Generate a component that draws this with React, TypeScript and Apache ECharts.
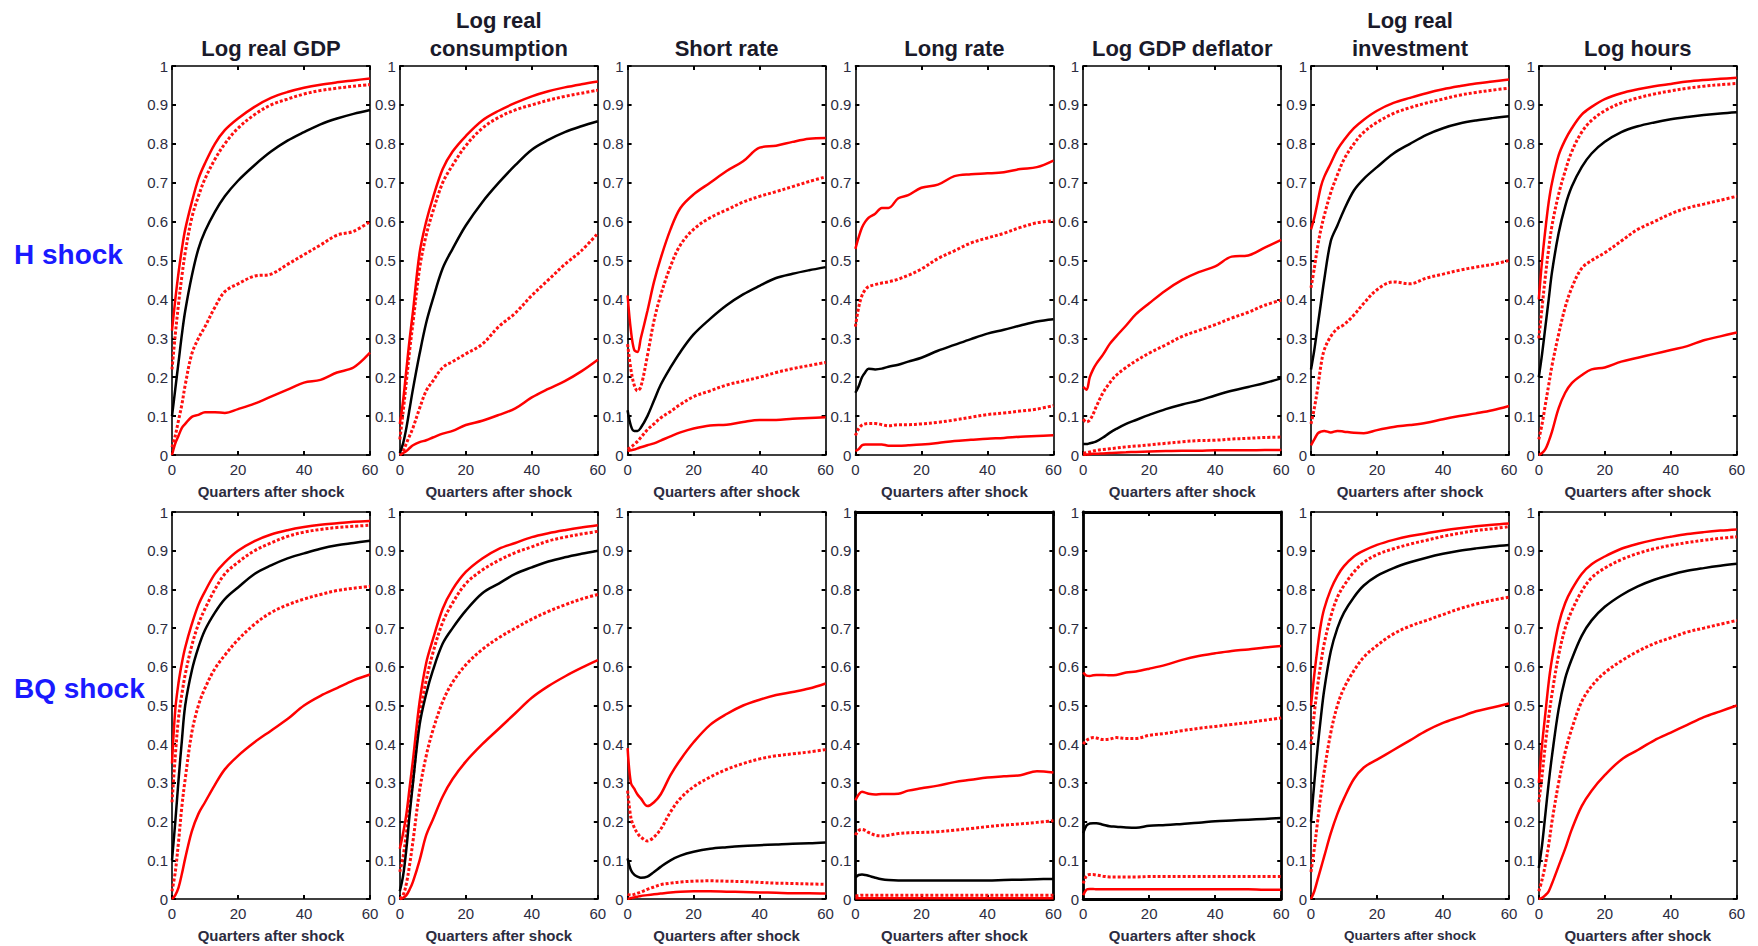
import React, { useEffect, useRef } from "react";
import * as echarts from "echarts";

const QUARTERS = [0, 1, 2, 3, 4, 6, 8, 10, 13, 16, 20, 25, 30, 35, 40, 45, 50, 55, 60];
const X_TICKS = [0, 20, 40, 60];
const Y_TICKS = [0, 0.1, 0.2, 0.3, 0.4, 0.5, 0.6, 0.7, 0.8, 0.9, 1];
const VARIABLES = [
  "Log real GDP",
  "Log real\nconsumption",
  "Short rate",
  "Long rate",
  "Log GDP deflator",
  "Log real\ninvestment",
  "Log hours",
];
const SHOCKS = ["H shock", "BQ shock"];
const X_NAME = "Quarters after shock";
// band order in every panel: upper solid, upper dotted, median, lower dotted, lower solid
const BANDS = ["upper", "upperInner", "median", "lowerInner", "lower"];

const GDP_H = [
  [0.32, 0.40, 0.47, 0.53, 0.58, 0.65, 0.71, 0.75, 0.80, 0.835, 0.865, 0.895, 0.918, 0.933, 0.944, 0.952, 0.958, 0.963, 0.968],
  [0.22, 0.31, 0.39, 0.46, 0.52, 0.61, 0.665, 0.71, 0.76, 0.80, 0.84, 0.875, 0.90, 0.915, 0.928, 0.937, 0.943, 0.948, 0.952],
  [0.10, 0.17, 0.24, 0.31, 0.37, 0.46, 0.53, 0.575, 0.625, 0.665, 0.705, 0.745, 0.78, 0.808, 0.83, 0.85, 0.865, 0.877, 0.887],
  [0.02, 0.05, 0.09, 0.13, 0.18, 0.26, 0.30, 0.33, 0.38, 0.42, 0.44, 0.46, 0.465, 0.49, 0.515, 0.54, 0.565, 0.575, 0.60],
  [0.00, 0.03, 0.05, 0.07, 0.08, 0.098, 0.103, 0.11, 0.11, 0.108, 0.118, 0.132, 0.15, 0.168, 0.186, 0.193, 0.212, 0.225, 0.263],
];
const GDP_BQ = [
  [0.35, 0.49, 0.56, 0.61, 0.65, 0.71, 0.76, 0.795, 0.84, 0.87, 0.90, 0.925, 0.942, 0.953, 0.961, 0.967, 0.971, 0.975, 0.977],
  [0.25, 0.37, 0.47, 0.53, 0.58, 0.655, 0.71, 0.75, 0.80, 0.84, 0.87, 0.90, 0.92, 0.937, 0.948, 0.955, 0.96, 0.963, 0.966],
  [0.10, 0.20, 0.31, 0.41, 0.50, 0.59, 0.65, 0.695, 0.74, 0.775, 0.805, 0.84, 0.862, 0.88, 0.893, 0.905, 0.914, 0.92, 0.926],
  [0.02, 0.07, 0.15, 0.24, 0.31, 0.43, 0.50, 0.545, 0.595, 0.63, 0.67, 0.71, 0.74, 0.76, 0.775, 0.787, 0.797, 0.803, 0.808],
  [0.00, 0.01, 0.03, 0.065, 0.105, 0.175, 0.22, 0.25, 0.295, 0.335, 0.37, 0.405, 0.435, 0.465, 0.50, 0.525, 0.545, 0.565, 0.58],
];
const CONS_H = [
  [0.08, 0.14, 0.22, 0.30, 0.37, 0.52, 0.60, 0.66, 0.735, 0.78, 0.82, 0.86, 0.885, 0.905, 0.922, 0.935, 0.945, 0.953, 0.96],
  [0.04, 0.11, 0.19, 0.27, 0.34, 0.48, 0.565, 0.625, 0.70, 0.745, 0.795, 0.84, 0.868, 0.887, 0.90, 0.912, 0.922, 0.93, 0.938],
  [0.005, 0.03, 0.07, 0.12, 0.17, 0.26, 0.34, 0.40, 0.48, 0.53, 0.59, 0.65, 0.70, 0.745, 0.785, 0.81, 0.83, 0.845, 0.858],
  [0.00, 0.01, 0.03, 0.05, 0.07, 0.12, 0.165, 0.19, 0.225, 0.24, 0.26, 0.285, 0.33, 0.365, 0.41, 0.45, 0.49, 0.525, 0.57],
  [0.00, 0.005, 0.01, 0.018, 0.025, 0.033, 0.038, 0.045, 0.055, 0.062, 0.077, 0.088, 0.103, 0.12, 0.148, 0.17, 0.19, 0.215, 0.245],
];
const CONS_BQ = [
  [0.13, 0.17, 0.22, 0.29, 0.36, 0.51, 0.61, 0.67, 0.75, 0.80, 0.845, 0.88, 0.905, 0.92, 0.935, 0.945, 0.953, 0.96, 0.966],
  [0.07, 0.11, 0.17, 0.24, 0.31, 0.47, 0.565, 0.635, 0.715, 0.765, 0.815, 0.85, 0.875, 0.895, 0.91, 0.925, 0.935, 0.943, 0.95],
  [0.02, 0.06, 0.13, 0.22, 0.30, 0.45, 0.53, 0.59, 0.66, 0.70, 0.745, 0.79, 0.815, 0.84, 0.857, 0.872, 0.883, 0.892, 0.90],
  [0.00, 0.01, 0.04, 0.09, 0.15, 0.28, 0.37, 0.435, 0.51, 0.56, 0.605, 0.645, 0.675, 0.70, 0.723, 0.743, 0.76, 0.775, 0.787],
  [0.00, 0.003, 0.01, 0.025, 0.045, 0.10, 0.165, 0.205, 0.265, 0.31, 0.355, 0.40, 0.44, 0.48, 0.52, 0.55, 0.575, 0.597, 0.617],
];
const SHORT_H = [
  [0.41, 0.32, 0.27, 0.265, 0.30, 0.37, 0.445, 0.505, 0.58, 0.635, 0.67, 0.70, 0.73, 0.755, 0.79, 0.795, 0.805, 0.813, 0.815],
  [0.285, 0.22, 0.18, 0.165, 0.175, 0.255, 0.345, 0.41, 0.485, 0.54, 0.58, 0.61, 0.63, 0.65, 0.665, 0.677, 0.69, 0.703, 0.715],
  [0.115, 0.075, 0.062, 0.062, 0.07, 0.10, 0.14, 0.18, 0.225, 0.265, 0.31, 0.35, 0.385, 0.413, 0.435, 0.455, 0.466, 0.475, 0.483],
  [0.015, 0.02, 0.027, 0.035, 0.045, 0.065, 0.08, 0.095, 0.112, 0.13, 0.15, 0.165, 0.18, 0.19, 0.20, 0.212, 0.222, 0.23, 0.238],
  [0.01, 0.012, 0.014, 0.017, 0.02, 0.025, 0.03, 0.037, 0.048, 0.058, 0.068, 0.076, 0.078, 0.085, 0.09, 0.09, 0.093, 0.095, 0.097],
];
const SHORT_BQ = [
  [0.39, 0.30, 0.285, 0.27, 0.26, 0.24, 0.25, 0.27, 0.32, 0.36, 0.405, 0.45, 0.478, 0.50, 0.515, 0.527, 0.535, 0.544, 0.557],
  [0.28, 0.21, 0.185, 0.17, 0.16, 0.15, 0.16, 0.18, 0.225, 0.26, 0.29, 0.315, 0.335, 0.35, 0.362, 0.37, 0.375, 0.38, 0.386],
  [0.105, 0.075, 0.063, 0.058, 0.055, 0.058, 0.07, 0.083, 0.10, 0.112, 0.122, 0.13, 0.134, 0.137, 0.139, 0.141, 0.143, 0.144, 0.146],
  [0.012, 0.01, 0.012, 0.015, 0.018, 0.025, 0.031, 0.037, 0.041, 0.044, 0.046, 0.047, 0.046, 0.045, 0.043, 0.041, 0.04, 0.039, 0.038],
  [0.00, 0.002, 0.004, 0.006, 0.008, 0.01, 0.012, 0.014, 0.017, 0.019, 0.02, 0.02, 0.019, 0.018, 0.017, 0.016, 0.015, 0.015, 0.014],
];
const LONG_H = [
  [0.53, 0.56, 0.585, 0.60, 0.61, 0.62, 0.635, 0.635, 0.66, 0.668, 0.687, 0.695, 0.717, 0.722, 0.724, 0.727, 0.735, 0.74, 0.757],
  [0.33, 0.38, 0.41, 0.425, 0.433, 0.438, 0.442, 0.445, 0.452, 0.462, 0.478, 0.505, 0.525, 0.545, 0.558, 0.57, 0.585, 0.597, 0.602],
  [0.16, 0.177, 0.20, 0.213, 0.222, 0.22, 0.222, 0.227, 0.232, 0.24, 0.25, 0.268, 0.283, 0.298, 0.312, 0.322, 0.333, 0.343, 0.349],
  [0.05, 0.068, 0.077, 0.08, 0.081, 0.081, 0.078, 0.075, 0.078, 0.078, 0.08, 0.084, 0.09, 0.097, 0.104, 0.108, 0.113, 0.118, 0.127],
  [0.01, 0.015, 0.025, 0.027, 0.027, 0.027, 0.027, 0.024, 0.024, 0.025, 0.027, 0.031, 0.036, 0.039, 0.042, 0.044, 0.047, 0.049, 0.051],
];
const LONG_BQ = [
  [0.255, 0.27, 0.277, 0.275, 0.272, 0.27, 0.271, 0.271, 0.272, 0.28, 0.286, 0.293, 0.302, 0.308, 0.314, 0.317, 0.32, 0.33, 0.327],
  [0.165, 0.177, 0.18, 0.177, 0.172, 0.165, 0.163, 0.165, 0.169, 0.171, 0.172, 0.174, 0.178, 0.182, 0.187, 0.191, 0.194, 0.198, 0.202],
  [0.055, 0.062, 0.063, 0.062, 0.06, 0.055, 0.051, 0.049, 0.048, 0.048, 0.048, 0.048, 0.048, 0.048, 0.048, 0.049, 0.05, 0.051, 0.052],
  [0.008, 0.009, 0.01, 0.01, 0.01, 0.01, 0.01, 0.01, 0.01, 0.01, 0.01, 0.01, 0.01, 0.01, 0.01, 0.01, 0.01, 0.01, 0.01],
  [0.002, 0.002, 0.002, 0.002, 0.002, 0.002, 0.002, 0.002, 0.002, 0.002, 0.002, 0.002, 0.002, 0.002, 0.002, 0.002, 0.002, 0.002, 0.002],
];
const DEFL_H = [
  [0.175, 0.168, 0.20, 0.22, 0.235, 0.258, 0.285, 0.305, 0.333, 0.362, 0.39, 0.423, 0.45, 0.47, 0.485, 0.51, 0.513, 0.533, 0.553],
  [0.092, 0.085, 0.09, 0.105, 0.125, 0.16, 0.185, 0.205, 0.225, 0.242, 0.262, 0.283, 0.305, 0.32, 0.335, 0.352, 0.367, 0.385, 0.398],
  [0.028, 0.028, 0.03, 0.032, 0.035, 0.045, 0.057, 0.067, 0.08, 0.09, 0.103, 0.118, 0.13, 0.14, 0.153, 0.165, 0.175, 0.185, 0.197],
  [0.005, 0.006, 0.008, 0.01, 0.012, 0.014, 0.016, 0.018, 0.021, 0.023, 0.026, 0.03, 0.034, 0.037, 0.038, 0.041, 0.043, 0.045, 0.046],
  [0.00, 0.001, 0.002, 0.003, 0.003, 0.004, 0.005, 0.006, 0.007, 0.008, 0.009, 0.01, 0.011, 0.011, 0.012, 0.012, 0.012, 0.013, 0.013],
];
const DEFL_BQ = [
  [0.585, 0.577, 0.576, 0.578, 0.579, 0.579, 0.578, 0.579, 0.585, 0.588, 0.595, 0.605, 0.618, 0.628, 0.635, 0.641, 0.645, 0.65, 0.654],
  [0.40, 0.41, 0.415, 0.417, 0.416, 0.412, 0.413, 0.417, 0.415, 0.415, 0.423, 0.428, 0.435, 0.441, 0.446, 0.451, 0.456, 0.462, 0.468],
  [0.17, 0.19, 0.195, 0.196, 0.196, 0.192, 0.188, 0.187, 0.185, 0.184, 0.189, 0.191, 0.194, 0.197, 0.201, 0.203, 0.205, 0.207, 0.209],
  [0.04, 0.06, 0.063, 0.063, 0.062, 0.059, 0.057, 0.057, 0.057, 0.057, 0.058, 0.058, 0.058, 0.058, 0.058, 0.058, 0.058, 0.058, 0.058],
  [0.01, 0.024, 0.026, 0.026, 0.025, 0.025, 0.025, 0.025, 0.025, 0.025, 0.025, 0.025, 0.025, 0.025, 0.025, 0.025, 0.025, 0.024, 0.024],
];
const INV_H = [
  [0.58, 0.61, 0.65, 0.69, 0.715, 0.75, 0.785, 0.81, 0.84, 0.862, 0.885, 0.905, 0.918, 0.93, 0.94, 0.948, 0.955, 0.96, 0.965],
  [0.43, 0.48, 0.535, 0.58, 0.615, 0.675, 0.72, 0.76, 0.80, 0.83, 0.855, 0.878, 0.893, 0.905, 0.915, 0.925, 0.932, 0.938, 0.943],
  [0.22, 0.27, 0.33, 0.39, 0.45, 0.55, 0.59, 0.63, 0.68, 0.71, 0.74, 0.775, 0.80, 0.823, 0.84, 0.852, 0.86, 0.866, 0.871],
  [0.08, 0.12, 0.17, 0.23, 0.27, 0.305, 0.325, 0.335, 0.36, 0.39, 0.425, 0.445, 0.44, 0.455, 0.465, 0.475, 0.483, 0.49, 0.50],
  [0.025, 0.04, 0.055, 0.06, 0.062, 0.058, 0.062, 0.06, 0.057, 0.056, 0.064, 0.072, 0.077, 0.083, 0.092, 0.10, 0.107, 0.115, 0.126],
];
const INV_BQ = [
  [0.50, 0.58, 0.65, 0.71, 0.75, 0.80, 0.835, 0.86, 0.885, 0.90, 0.915, 0.928, 0.938, 0.945, 0.952, 0.958, 0.963, 0.967, 0.97],
  [0.40, 0.48, 0.55, 0.61, 0.66, 0.73, 0.78, 0.81, 0.845, 0.87, 0.89, 0.905, 0.917, 0.927, 0.937, 0.945, 0.952, 0.957, 0.962],
  [0.20, 0.30, 0.39, 0.47, 0.54, 0.64, 0.70, 0.74, 0.78, 0.81, 0.835, 0.855, 0.87, 0.882, 0.892, 0.90, 0.906, 0.911, 0.915],
  [0.07, 0.13, 0.20, 0.27, 0.33, 0.43, 0.50, 0.545, 0.59, 0.625, 0.655, 0.685, 0.705, 0.72, 0.735, 0.75, 0.762, 0.772, 0.78],
  [0.00, 0.02, 0.05, 0.08, 0.11, 0.17, 0.22, 0.26, 0.31, 0.34, 0.36, 0.385, 0.41, 0.435, 0.455, 0.47, 0.485, 0.495, 0.505],
];
const HOURS_H = [
  [0.40, 0.50, 0.58, 0.65, 0.70, 0.77, 0.81, 0.84, 0.875, 0.895, 0.915, 0.93, 0.94, 0.948, 0.954, 0.96, 0.964, 0.967, 0.97],
  [0.30, 0.38, 0.46, 0.53, 0.59, 0.67, 0.73, 0.78, 0.83, 0.86, 0.885, 0.905, 0.918, 0.928, 0.936, 0.943, 0.948, 0.952, 0.955],
  [0.20, 0.26, 0.33, 0.40, 0.47, 0.57, 0.64, 0.69, 0.74, 0.775, 0.805, 0.83, 0.845, 0.855, 0.863, 0.869, 0.874, 0.878, 0.881],
  [0.04, 0.08, 0.13, 0.18, 0.23, 0.31, 0.38, 0.43, 0.48, 0.50, 0.52, 0.55, 0.58, 0.60, 0.62, 0.635, 0.645, 0.655, 0.665],
  [0.00, 0.005, 0.015, 0.035, 0.06, 0.12, 0.16, 0.185, 0.205, 0.22, 0.225, 0.24, 0.25, 0.26, 0.27, 0.28, 0.295, 0.305, 0.315],
];
const HOURS_BQ = [
  [0.30, 0.40, 0.48, 0.56, 0.62, 0.71, 0.765, 0.80, 0.84, 0.865, 0.885, 0.905, 0.918, 0.928, 0.936, 0.943, 0.948, 0.952, 0.955],
  [0.25, 0.32, 0.40, 0.47, 0.53, 0.63, 0.70, 0.745, 0.795, 0.83, 0.855, 0.877, 0.893, 0.905, 0.914, 0.921, 0.927, 0.932, 0.936],
  [0.08, 0.14, 0.22, 0.30, 0.37, 0.49, 0.57, 0.62, 0.68, 0.72, 0.755, 0.785, 0.808, 0.825, 0.838, 0.848, 0.855, 0.861, 0.866],
  [0.02, 0.05, 0.09, 0.14, 0.20, 0.30, 0.38, 0.44, 0.51, 0.55, 0.585, 0.615, 0.64, 0.66, 0.675, 0.69, 0.70, 0.71, 0.72],
  [0.00, 0.003, 0.01, 0.02, 0.04, 0.085, 0.13, 0.18, 0.24, 0.28, 0.32, 0.36, 0.385, 0.41, 0.43, 0.45, 0.47, 0.485, 0.50],
];

const PANELS_H = [GDP_H, CONS_H, SHORT_H, LONG_H, DEFL_H, INV_H, HOURS_H];
const PANELS_BQ = [GDP_BQ, CONS_BQ, SHORT_BQ, LONG_BQ, DEFL_BQ, INV_BQ, HOURS_BQ];

// ---------- layout & style ----------
const FONT = "'Liberation Sans', Arial, Helvetica, sans-serif";
const LABEL_COLOR = "#2c2c40";
const TITLE_COLOR = "#1a1a2a";
const ROW_COLOR = "#1a1aff";
const RED = "#ff0000";
const COL_LEFT0 = 172;
const COL_STEP = 227.8;
const PLOT_W = 198;
const ROWS = [
  { top: 66, height: 389 },
  { top: 512, height: 387 },
];
const ROW_LABEL_Y = [254, 688];

function bandStyle(b: number) {
  if (b === 2) return { color: "#000000", width: 2.5, type: "solid" as any };
  if (b === 1 || b === 3) return { color: "#ff1010", width: 3, type: [3, 2] as any, cap: "butt" };
  return { color: RED, width: 2.5, type: "solid" as any };
}

function buildOption() {
  const grid: any[] = [];
  const xAxis: any[] = [];
  const yAxis: any[] = [];
  const series: any[] = [];
  const graphic: any[] = [];
  const tick = { inside: true, length: 4, lineStyle: { color: "#000", width: 2 } };

  [PANELS_H, PANELS_BQ].forEach((panels, r) => {
    panels.forEach((bands, c) => {
      const k = grid.length;
      const left = COL_LEFT0 + c * COL_STEP;
      const thick = r === 1 && (c === 3 || c === 4);
      const lw = thick ? 2.8 : 1.6;
      const axisLine = { show: true, onZero: false, lineStyle: { color: "#000", width: lw } };
      grid.push({ left, top: ROWS[r].top, width: PLOT_W, height: ROWS[r].height, containLabel: false });
      const nameSize = r === 1 && c === 5 ? 13.5 : 15;
      xAxis.push({
        type: "value", gridIndex: k, min: X_TICKS[0], max: X_TICKS[X_TICKS.length - 1],
        interval: X_TICKS[1] - X_TICKS[0], position: "bottom",
        axisLine, axisTick: tick, splitLine: { show: false },
        axisLabel: { fontSize: 15, color: LABEL_COLOR, margin: 7, fontFamily: FONT },
        name: X_NAME, nameLocation: "middle", nameGap: 29,
        nameTextStyle: { fontSize: nameSize, fontWeight: "bold", color: LABEL_COLOR, fontFamily: FONT },
      });
      xAxis.push({
        type: "value", gridIndex: k, min: X_TICKS[0], max: X_TICKS[X_TICKS.length - 1],
        interval: X_TICKS[1] - X_TICKS[0], position: "top",
        axisLine, axisTick: tick, splitLine: { show: false }, axisLabel: { show: false },
      });
      const yBase = {
        type: "value", gridIndex: k, min: Y_TICKS[0], max: Y_TICKS[Y_TICKS.length - 1],
        interval: Y_TICKS[1] - Y_TICKS[0], axisLine, axisTick: tick, splitLine: { show: false },
      };
      yAxis.push({
        ...yBase, position: "left",
        axisLabel: { fontSize: 15, color: LABEL_COLOR, margin: 4, fontFamily: FONT },
      });
      yAxis.push({ ...yBase, position: "right", axisLabel: { show: false } });

      const order = [4, 3, 1, 0, 2];
      order.forEach((b) => {
        series.push({
          type: "line", name: `${SHOCKS[r]} ${VARIABLES[c]} ${BANDS[b]}`,
          xAxisIndex: 2 * k, yAxisIndex: 2 * k,
          data: QUARTERS.map((q, i) => [q, bands[b][i]]),
          showSymbol: false, symbol: "none", smooth: 0.35,
          lineStyle: bandStyle(b), silent: true, z: 3,
        });
      });

      if (r === 0) {
        graphic.push({
          type: "text", x: left + PLOT_W / 2, y: 62,
          style: {
            text: VARIABLES[c], fontSize: 22, fontWeight: "bold", fontFamily: FONT,
            fill: TITLE_COLOR, textAlign: "center", textVerticalAlign: "bottom", lineHeight: 28,
          },
        });
      }
    });
  });

  SHOCKS.forEach((s, r) => {
    graphic.push({
      type: "text", x: 14, y: ROW_LABEL_Y[r],
      style: {
        text: s, fontSize: 28, fontWeight: "bold", fontFamily: FONT,
        fill: ROW_COLOR, textAlign: "left", textVerticalAlign: "middle",
      },
    });
  });

  return {
    animation: false,
    backgroundColor: "#ffffff",
    grid, xAxis, yAxis, series, graphic,
  };
}

export default function App() {
  const ref = useRef<HTMLDivElement>(null);
  useEffect(() => {
    if (!ref.current) return;
    const chart = echarts.init(ref.current, null, { renderer: "svg" });
    chart.setOption(buildOption() as any);
    return () => chart.dispose();
  }, []);
  return (
    <div
      ref={ref}
      style={{ position: "absolute", left: 0, top: 0, width: 1758, height: 946, background: "#fff" }}
    />
  );
}
